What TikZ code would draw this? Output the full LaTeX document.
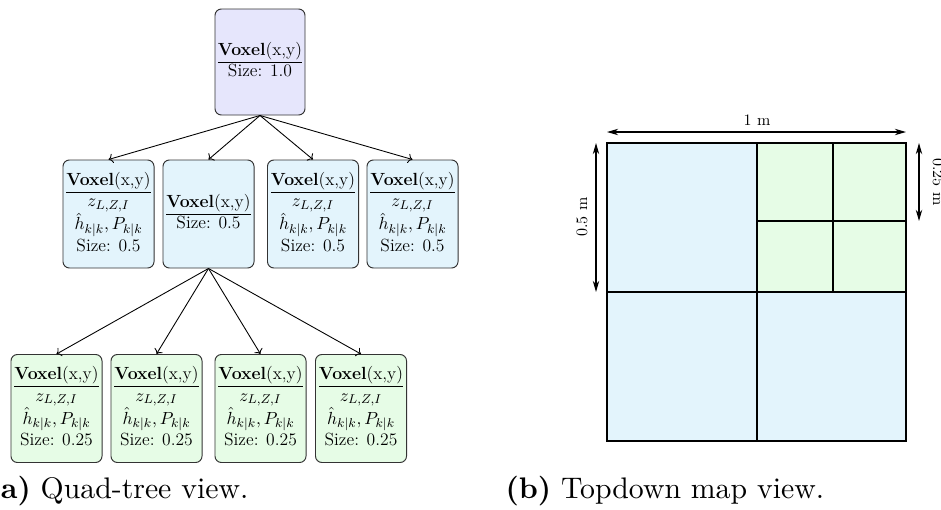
\documentclass[tikz,border=0pt]{standalone}
\usepackage{amsmath,amssymb}
\usepackage{xcolor}
\usepackage{tikz}
\usetikzlibrary{arrows.meta}
\definecolor{voxtop}{RGB}{230,230,252}
\definecolor{voxmid}{RGB}{227,244,252}
\definecolor{voxleaf}{RGB}{230,252,230}
\newcommand{\voxhead}{\textbf{Voxel}(x,y)\\\hline}
\newcommand{\voxfull}[1]{\begin{tabular}{@{}c@{}}\voxhead $z_{L,Z,I}$\\ $\hat{h}_{k|k},P_{k|k}$\\ Size: #1\end{tabular}}
\newcommand{\voxshort}[1]{\begin{tabular}{@{}c@{}}\voxhead Size: #1\end{tabular}}

\begin{document}
\begin{tikzpicture}[x=0.625pt,y=-0.625pt,
    voxel/.style={draw=black!80, line width=0.6pt, rounded corners=4pt,
        inner sep=0pt, minimum width=56.9pt, minimum height=67.5pt,
        font=\fontsize{11}{13}\selectfont},
    link/.style={->, line width=0.55pt},
    cell/.style={draw=black, line width=0.8pt},
    dim/.style={{Stealth[length=7pt,width=4pt]}-{Stealth[length=7pt,width=4pt]}, line width=0.7pt},
    caption/.style={anchor=base west, inner sep=0pt, scale=1.86, transform shape}]
    \useasboundingbox (0,0) rectangle (941,510);

    % quad-tree
    \node[voxel, fill=voxtop, minimum width=56.25pt, minimum height=66.25pt] (V0) at (260,62) {\voxshort{1.0}};

    \node[voxel, fill=voxmid] (V1) at (108.5,214) {\voxfull{0.5}};
    \node[voxel, fill=voxmid] (V2) at (208.5,214) {\voxshort{0.5}};
    \node[voxel, fill=voxmid] (V3) at (313,214) {\voxfull{0.5}};
    \node[voxel, fill=voxmid] (V4) at (412.5,214) {\voxfull{0.5}};

    \node[voxel, fill=voxleaf] (W1) at (56.5,408.5) {\voxfull{0.25}};
    \node[voxel, fill=voxleaf] (W2) at (156.5,408.5) {\voxfull{0.25}};
    \node[voxel, fill=voxleaf] (W3) at (260.5,408.5) {\voxfull{0.25}};
    \node[voxel, fill=voxleaf] (W4) at (361,408.5) {\voxfull{0.25}};

    \foreach \i in {1,...,4} {
        \draw[link] (V0.south) -- (V\i.north);
        \draw[link] (V2.south) -- (W\i.north);
    }

    % topdown map
    \coordinate (M1) at (607,143);
    \coordinate (M2) at (906,441);
    \fill[voxmid] (M1) rectangle (M2);
    \fill[voxleaf] (757,143) rectangle (906,292);
    \draw[cell] (757,143) -- (757,441);
    \draw[cell] (607,292) -- (906,292);
    \draw[cell] (833,143) -- (833,292);
    \draw[cell] (757,221) -- (906,221);
    \draw[cell] (M1) rectangle (M2);

    \coordinate (DT1) at (607,132);
    \coordinate (DT2) at (906,132);
    \coordinate (DL1) at (596,143);
    \coordinate (DL2) at (596,292);
    \coordinate (DR1) at (919,143);
    \coordinate (DR2) at (919,221);
    \draw[dim] (DT1) -- (DT2);
    \draw[dim] (DL1) -- (DL2);
    \draw[dim] (DR1) -- (DR2);
    \node[anchor=base, inner sep=0pt] (LT) at (757,125) {1 m};
    \node[anchor=base, inner sep=0pt, rotate=90] (LL) at (587,217) {0.5 m};
    \node[anchor=base, inner sep=0pt, rotate=-90] (LR) at (933,182) {0.25 m};

    % captions
    \node[caption] (CA) at (-13,498) {\textbf{(a)} Quad-tree view.};
    \node[caption] (CB) at (505,498) {\textbf{(b)} Topdown map view.};
\end{tikzpicture}
\end{document}
